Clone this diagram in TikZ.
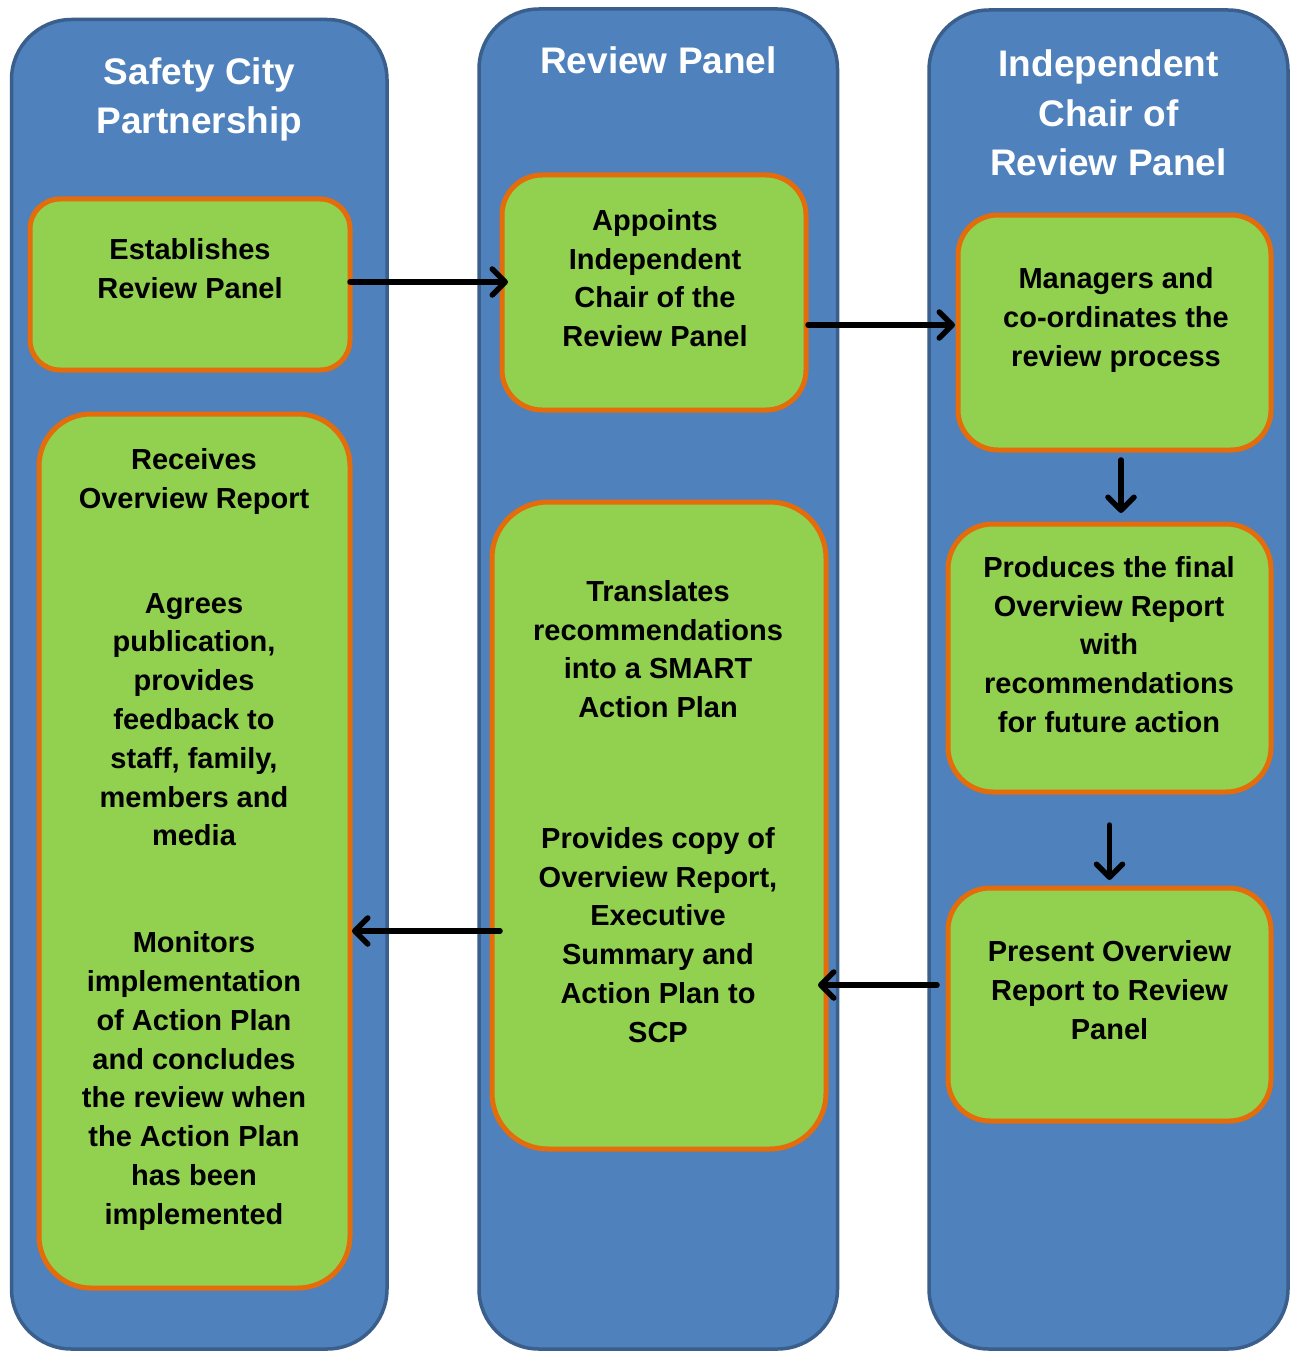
\documentclass[tikz,border=0pt]{standalone}
\usepackage{fontspec}
\setmainfont{Liberation Sans}
\usetikzlibrary{arrows.meta}
\definecolor{colfill}{RGB}{79,129,189}
\definecolor{colline}{RGB}{58,95,140}
\definecolor{boxfill}{RGB}{146,208,80}
\definecolor{boxline}{RGB}{228,108,10}
\begin{document}
\begin{tikzpicture}[x=1pt,y=1pt,
  column/.style={draw=colline, line width=3.5pt, fill=colfill, rounded corners=60pt},
  box/.style={draw=boxline, line width=5pt, fill=boxfill, inner sep=0pt, outer sep=0pt, anchor=north west},
  title/.style={text=white, font=\fontsize{37}{49.5}\selectfont\bfseries, align=center, anchor=north, inner sep=0pt},
  txt/.style={text=black, font=\fontsize{29}{38.8}\selectfont\bfseries, align=center, anchor=north, inner sep=0pt},
  arr/.style={line width=5.5pt, line cap=round, -{Straight Barb[length=13pt,width=26pt,round]}}]
\fill[white] (0,0) rectangle (1298,-1351);
\useasboundingbox (0,0) rectangle (1298,-1351);
% columns
\draw[column] (11.5,-19.5) rectangle (387,-1349);
\draw[column] (479,-9) rectangle (837.5,-1349);
\draw[column] (929,-10) rectangle (1288,-1349);
% titles
\node[title] (t1) at (199.5,-57) {Safety City\\Partnership};
\node[title] (t2) at (658.5,-46.5) {Review Panel};
\node[title] (t3) at (1108.5,-49.5) {Independent\\Chair of\\Review Panel};
% boxes
\node[box, rounded corners=30pt, minimum width=320pt, minimum height=171pt] (A) at (30,-199) {};
\node[box, rounded corners=40pt, minimum width=304pt, minimum height=235pt] (B) at (502,-175) {};
\node[box, rounded corners=40pt, minimum width=313pt, minimum height=235pt] (C) at (958,-215) {};
\node[box, rounded corners=52pt, minimum width=311pt, minimum height=874pt] (D) at (39,-414) {};
\node[box, rounded corners=56pt, minimum width=334pt, minimum height=647pt] (E) at (492,-502) {};
\node[box, rounded corners=45pt, minimum width=323pt, minimum height=268pt] (F) at (948,-524) {};
\node[box, rounded corners=42pt, minimum width=323pt, minimum height=233pt] (G) at (948,-888) {};
% texts
\node[txt] (tA) at (190,-238) {Establishes\\Review Panel};
\node[txt] (tB) at (655,-209) {Appoints\\Independent\\Chair of the\\Review Panel};
\node[txt] (tC) at (1116,-267.5) {Managers and\\co-ordinates the\\review process};
\node[txt] (tD1) at (194,-448) {Receives\\Overview Report};
\node[txt] (tD2) at (194,-593) {Agrees\\publication,\\provides\\feedback to\\staff, family,\\members and\\media};
\node[txt] (tD3) at (194,-931.5) {Monitors\\implementation\\of Action Plan\\and concludes\\the review when\\the Action Plan\\has been\\implemented};
\node[txt] (tE1) at (658,-580) {Translates\\recommendations\\into a SMART\\Action Plan};
\node[txt] (tE2) at (658,-827) {Provides copy of\\Overview Report,\\Executive\\Summary and\\Action Plan to\\SCP};
\node[txt] (tF) at (1109,-556) {Produces the final\\Overview Report\\with\\recommendations\\for future action};
\node[txt] (tG) at (1109.5,-940.5) {Present Overview\\Report to Review\\Panel};
% connectors
\coordinate (a1) at ([yshift=2.5pt]A.east);
\coordinate (b1) at ([xshift=6pt]a1 -| B.west);
\draw[arr] (a1) -- (b1);
\coordinate (b2) at ([xshift=2pt,yshift=-32.5pt]B.east);
\coordinate (c2) at ([xshift=-3pt]b2 -| C.west);
\draw[arr] (b2) -- (c2);
\coordinate (c3) at ([xshift=6.5pt,yshift=-10pt]C.south);
\coordinate (f3) at ([yshift=11pt]c3 |- F.north);
\draw[arr] (c3) -- (f3);
\coordinate (f4) at ([yshift=-33pt]F.south);
\coordinate (g4) at ([yshift=8pt]f4 |- G.north);
\draw[arr] (f4) -- (g4);
\coordinate (e5) at ([xshift=8pt,yshift=-105.5pt]E.west);
\coordinate (d5) at ([xshift=2pt]e5 -| D.east);
\draw[arr] (e5) -- (d5);
\coordinate (g6) at ([xshift=-11pt,yshift=19.5pt]G.west);
\coordinate (e6) at ([xshift=-8pt]g6 -| E.east);
\draw[arr] (g6) -- (e6);
\end{tikzpicture}
\end{document}
